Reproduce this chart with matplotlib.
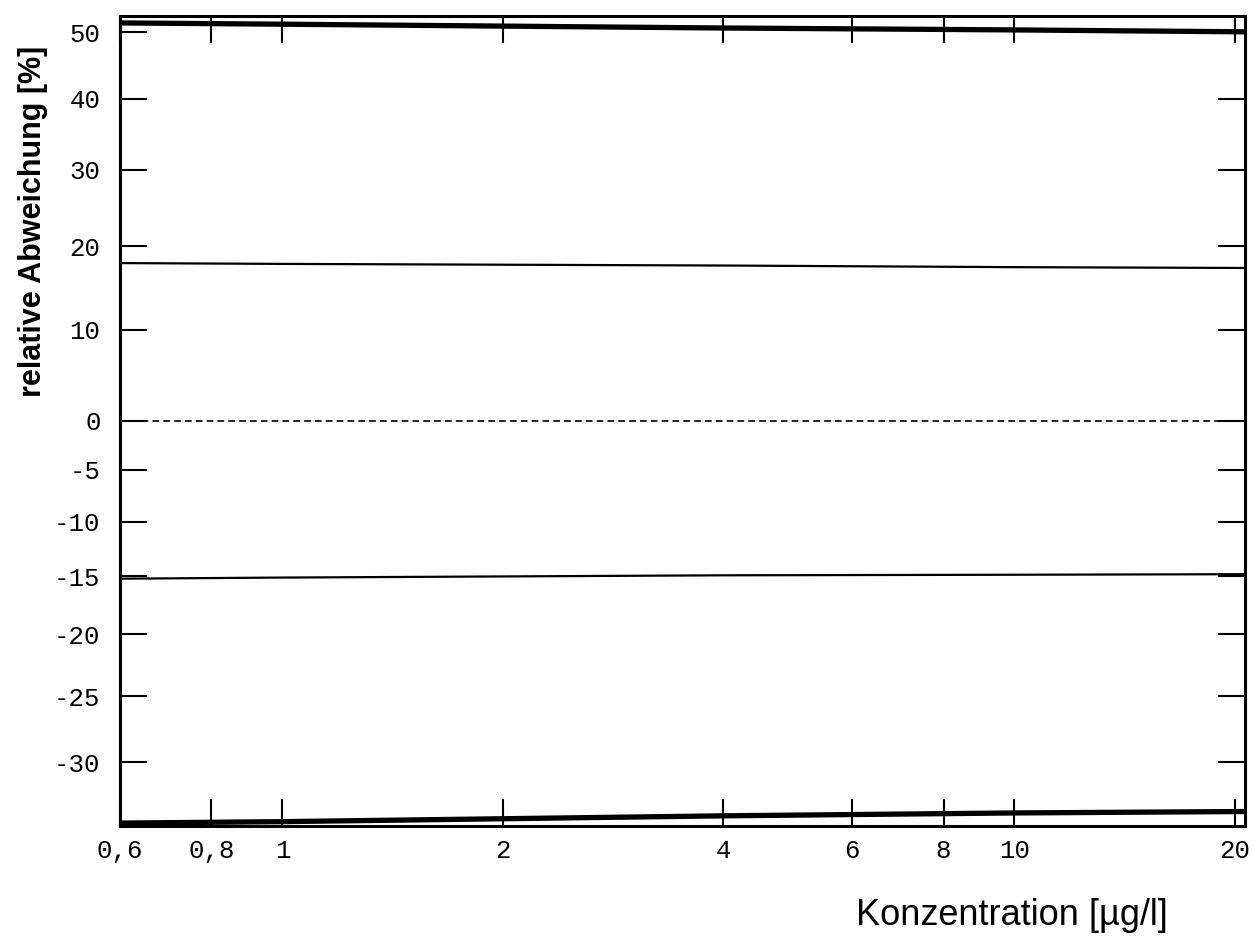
import numpy as np
import matplotlib.pyplot as plt
from matplotlib.ticker import FixedLocator, FixedFormatter, NullLocator

# concentration points (µg/l) along the limit curves
conc = [0.6, 1, 2, 4, 10, 20.65]
# relative deviation limits [%]
upper_outer = [51.5, 51.3, 51.0, 50.7, 50.4, 50.1]
upper_inner = [17.9, 17.8, 17.7, 17.6, 17.4, 17.3]
lower_inner = [-15.2, -15.1, -15.0, -14.9, -14.85, -14.8]
lower_outer = [-34.3, -34.2, -34.0, -33.8, -33.6, -33.5]

xticks = [0.6, 0.8, 1, 2, 4, 6, 8, 10, 20]
xlabels = ['0,6', '0,8', '1', '2', '4', '6', '8', '10', '20']
yticks = [-30, -25, -20, -15, -10, -5, 0, 10, 20, 30, 40, 50]


def fwd(y):
    with np.errstate(invalid='ignore', divide='ignore'):
        return np.log1p(np.asarray(y) / 100.0)


def inv(v):
    return 100.0 * np.expm1(v)


fig = plt.figure(figsize=(12.53, 9.36), dpi=100)
ax = fig.add_axes([0.0958, 0.1175, 0.8978, 0.8654])

ax.set_xscale('log')
ax.set_yscale('function', functions=(fwd, inv))

ax.plot(conc, upper_outer, color='k', lw=3.8, solid_capstyle='butt')
ax.plot(conc, lower_outer, color='k', lw=3.8, solid_capstyle='butt')
ax.plot(conc, upper_inner, color='k', lw=1.6)
ax.plot(conc, lower_inner, color='k', lw=1.6)
ax.plot([0.6, 20.65], [0, 0], color='k', lw=1.2, ls=(0, (4, 2.5)))

ax.set_xlim(0.6, 20.65)
ax.set_ylim(-34.5, 52.6)

ax.xaxis.set_major_locator(FixedLocator(xticks))
ax.xaxis.set_major_formatter(FixedFormatter(xlabels))
ax.xaxis.set_minor_locator(NullLocator())
ax.yaxis.set_major_locator(FixedLocator(yticks))
ax.yaxis.set_major_formatter(FixedFormatter([str(t) for t in yticks]))
ax.yaxis.set_minor_locator(NullLocator())

ax.tick_params(which='major', direction='in', length=19.5, width=1.5,
               top=True, right=True, labelsize=18.5, colors='k')
ax.tick_params(axis='y', pad=14)
ax.tick_params(axis='x', pad=9)
for lab in ax.get_xticklabels() + ax.get_yticklabels():
    lab.set_family('Liberation Mono')

for s in ax.spines.values():
    s.set_linewidth(2.2)

fig.text(0.026, 0.763, 'relative Abweichung [%]', rotation=90, ha='center', va='center',
         fontsize=22, fontweight='bold', family='Liberation Sans')
fig.text(0.808, 0.022, 'Konzentration [µg/l]', ha='center', va='center',
         fontsize=26, family='Liberation Sans')

fig.savefig('out.png', dpi=100)
